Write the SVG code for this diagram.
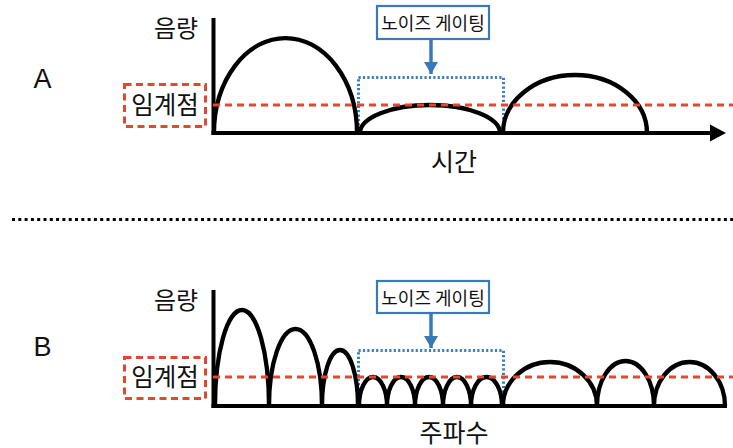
<svg xmlns="http://www.w3.org/2000/svg" width="733" height="448" viewBox="0 0 733 448">
<style>
.t{font-family:"Noto Sans CJK KR","Noto Sans",sans-serif;fill:#111;text-anchor:middle;font-weight:400}
.lat{font-family:"Liberation Sans",Arial,sans-serif;fill:#111;text-anchor:middle;font-size:27px}
.axis{stroke:#000;stroke-width:4;fill:none}
.arch{stroke:#000;stroke-width:4.3;fill:none}
.thr{stroke:#e4472f;stroke-width:3;stroke-dasharray:7 5;fill:none}
.gate{stroke:#3d7fc2;stroke-width:3;stroke-dasharray:2.2 2.2;fill:none}
.nbox{stroke:#3b78b8;stroke-width:2.2;fill:#fff}
.tbox{stroke:#e4472f;stroke-width:3;stroke-dasharray:7 4.5;fill:none}
</style>
<defs>
<marker id="ah" markerWidth="14" markerHeight="14" refX="12" refY="7" orient="auto" markerUnits="userSpaceOnUse">
<path d="M0,0 L12,7 L0,14 z" fill="#3b78b8"/>
</marker>
</defs>

<g id="panelA">
<text class="lat" x="42.5" y="88">A</text>
<g id="A-ylabel"><text class="t" x="176" y="37" font-size="24">음량</text></g>
<g id="A-threshold-label">
<rect class="tbox" x="124.5" y="84.5" width="81" height="42"/>
<text class="t" x="165" y="114" font-size="24.5">임계점</text>
</g>
<g id="A-xlabel"><text class="t" x="454" y="171" font-size="25">시간</text></g>
<g id="A-noise-gate">
<rect class="nbox" x="377" y="6" width="112" height="33"/>
<text class="t" x="433" y="30" font-size="18">노이즈 게이팅</text>
</g>
<g id="A-gate-region"><rect class="gate" x="358.5" y="77.5" width="145" height="55"/></g>
<g id="A-arches">
<path class="arch" d="M214,133 A71.5,95 0 0 1 357,133"/>
<path class="arch" d="M360,133 A70,28 0 0 1 500,133"/>
<path class="arch" d="M503,133 A72,58 0 0 1 647,133"/>
</g>
<g id="A-axes">
<path class="axis" d="M213.5,18 V135"/>
<path class="axis" d="M211.5,133 H712"/>
<path d="M710,124.5 L726,133 L710,141.5 z" fill="#000"/>
</g>
<line class="thr" x1="213" y1="105" x2="733" y2="105"/>
</g>

<line x1="12" y1="219.5" x2="733" y2="219.5" stroke="#000" stroke-width="3" stroke-dasharray="3 3.3"/>

<g id="panelB">
<text class="lat" x="42.5" y="356">B</text>
<g id="B-ylabel"><text class="t" x="176" y="309" font-size="24">음량</text></g>
<g id="B-threshold-label">
<rect class="tbox" x="124.5" y="357.5" width="81" height="41"/>
<text class="t" x="165" y="386" font-size="24.5">임계점</text>
</g>
<g id="B-xlabel"><text class="t" x="454" y="442" font-size="25">주파수</text></g>
<g id="B-noise-gate">
<rect class="nbox" x="377" y="281" width="112" height="32"/>
<text class="t" x="433" y="305" font-size="18">노이즈 게이팅</text>
</g>
<g id="B-gate-region"><rect class="gate" x="358.5" y="350.5" width="145" height="55"/></g>
<g id="B-arches">
<path class="arch" d="M215,406 A27,96 0 0 1 269,406"/>
<path class="arch" d="M269,406 A26.5,77 0 0 1 322,406"/>
<path class="arch" d="M322,406 A18,56 0 0 1 358,406"/>
<path class="arch" d="M359,406 A14,29 0 0 1 387,406"/>
<path class="arch" d="M387,406 A14,29 0 0 1 415,406"/>
<path class="arch" d="M415,406 A14,29 0 0 1 443,406"/>
<path class="arch" d="M443,406 A14,29 0 0 1 471,406"/>
<path class="arch" d="M471,406 A15.5,29 0 0 1 502,406"/>
<path class="arch" d="M503,406 A47,44 0 0 1 597,406"/>
<path class="arch" d="M597,406 A28.5,45 0 0 1 654,406"/>
<path class="arch" d="M654,406 A35.5,44 0 0 1 725,406"/>
</g>
<g id="B-axes">
<path class="axis" d="M213.5,290 V408"/>
<path class="axis" d="M211.5,406 H727"/>
</g>
<line class="thr" x1="213" y1="377" x2="733" y2="377"/>
</g>

<g id="connectors">
<line x1="431" y1="39" x2="431" y2="74" stroke="#3b78b8" stroke-width="3.5" marker-end="url(#ah)"/>
<line x1="431" y1="313" x2="431" y2="348" stroke="#3b78b8" stroke-width="3.5" marker-end="url(#ah)"/>
</g>
</svg>
